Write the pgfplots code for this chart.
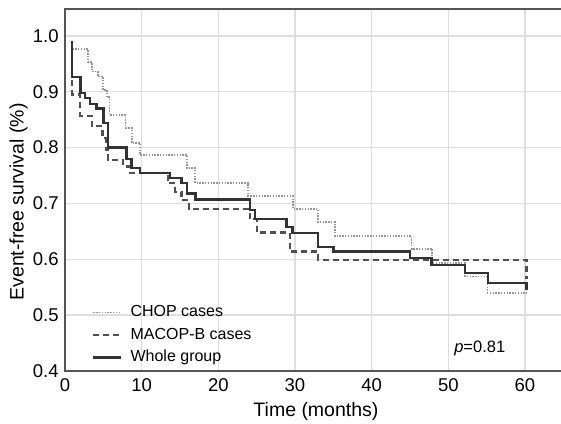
\documentclass[border=0pt]{standalone}
\usepackage{fontspec}
\setmainfont{Liberation Sans}
\usepackage{pgfplots}
\pgfplotsset{compat=1.18}
\usetikzlibrary{calc}
\definecolor{framec}{RGB}{85,85,85}
\definecolor{gridc}{RGB}{222,222,222}
\definecolor{chopc}{RGB}{150,150,150}
\definecolor{macopc}{RGB}{80,80,80}
\definecolor{wholec}{RGB}{50,50,50}

\begin{document}
\begin{tikzpicture}
\begin{axis}[
  scale only axis,
  width=496pt, height=362pt,
  xmin=0, xmax=64.7, ymin=0.4, ymax=1.048,
  xtick={0,10,...,60}, ytick={0.4,0.5,...,1.0},
  yticklabel style={/pgf/number format/fixed, /pgf/number format/fixed zerofill,
    /pgf/number format/precision=1, xshift=-2.8pt},
  /pgf/number format/assume math mode=true,
  tick label style={font=\fontsize{18.5}{22}\selectfont},
  xticklabel style={yshift=-4.5pt},
  major tick length=0pt,
  grid=major,
  major grid style={gridc, line width=1.4pt},
  axis line style={draw=none},
  clip=false,
  xlabel={Time (months)},
  ylabel={Event-free survival (\%)},
  label style={font=\fontsize{19.5}{23}\selectfont},
  xlabel style={at={(axis description cs:0.506,0)}, anchor=base, yshift=-45.7pt},
  ylabel style={at={(axis description cs:-0.0938,0.467)}, anchor=center},
  legend style={draw=none, fill=none, at={(axis cs:3.52,0.52)}, anchor=north west,
    inner sep=0pt, column sep=8pt, row sep=6pt,
    font=\fontsize{16}{19}\selectfont,
    nodes={inner sep=0pt, text height=12.5pt, text depth=4pt}},
  legend cell align=left,
  legend image code/.code={\draw[#1] (0pt,0pt) -- (28pt,0pt);},
]
% CHOP cases
\addplot[const plot, chopc, line width=1.8pt, dash pattern=on 1.4pt off 1.4pt] coordinates {
  (0.9,0.99) (0.9,0.976) (3.0,0.953) (3.5,0.936) (4.3,0.927) (5.0,0.903)
  (5.5,0.890) (5.8,0.858) (7.9,0.835) (8.7,0.808) (9.8,0.787) (15.9,0.763)
  (17.0,0.737) (23.9,0.713) (29.7,0.690) (33.0,0.667) (35.2,0.642)
  (45.2,0.619) (47.9,0.594) (52.2,0.569) (55.1,0.540) (60.2,0.540)
};
\addlegendentry{CHOP cases}
% MACOP-B cases
\addplot[const plot, macopc, line width=2.2pt, dash pattern=on 6pt off 4pt] coordinates {
  (0.9,0.92) (0.9,0.895) (2.0,0.857) (3.5,0.838) (4.9,0.817) (5.3,0.795)
  (5.6,0.777) (7.6,0.766) (8.5,0.754) (13.4,0.736) (14.4,0.721) (15.2,0.706)
  (16.2,0.690) (24.1,0.672) (25.0,0.648) (29.3,0.614) (33.0,0.599)
  (60.2,0.599) (60.2,0.565)
};
\addlegendentry{MACOP-B cases}
% Whole group
\addplot[const plot, wholec, line width=2.4pt] coordinates {
  (0.9,0.99) (0.9,0.926) (2.0,0.898) (2.6,0.889) (3.3,0.878) (4.1,0.870)
  (5.0,0.844) (5.6,0.800) (8.0,0.780) (8.7,0.763) (9.8,0.754) (13.7,0.745)
  (15.2,0.736) (15.9,0.718) (17.0,0.707) (24.1,0.688) (24.8,0.672)
  (28.9,0.658) (29.7,0.647) (33.0,0.622) (35.0,0.614) (45.0,0.602)
  (47.8,0.590) (52.2,0.575) (55.2,0.557) (60.2,0.557) (60.2,0.545)
};
\addlegendentry{Whole group}
\node[font=\fontsize{16.5}{20}\selectfont, anchor=base] at (axis cs:54.1,0.4327) {\textit{p}=0.81};
\draw[framec, line width=2.6pt]
  (rel axis cs:1.05,1) -- (rel axis cs:0,1) -- (rel axis cs:0,0) -- (rel axis cs:1.05,0);
\end{axis}
\pgfresetboundingbox
\path[use as bounding box] ($(current axis.south west)+(-65pt,-53pt)$)
  rectangle ($(current axis.north east)+(0pt,9pt)$);
\end{tikzpicture}
\end{document}
